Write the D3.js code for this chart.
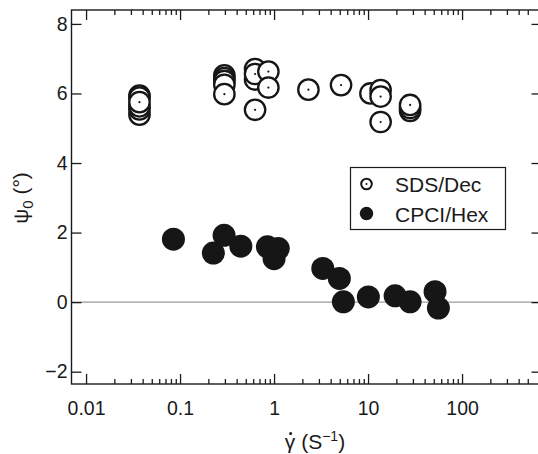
<!DOCTYPE html>
<html>
<head>
<meta charset="utf-8">
<script src="https://cdn.jsdelivr.net/npm/d3@7"></script>
<style>
  html, body { margin: 0; padding: 0; background: #fff; }
  svg { display: block; }
  text { font-family: "Liberation Sans", Arial, Helvetica, sans-serif; fill: #1a1a1a; }
</style>
</head>
<body>
<svg id="chart" width="538" height="454"></svg>
<script>
// ---- data ----
// SDS/Dec : open circles (drawing order: dotted/top-most last in each cluster)
const sdsX = [0.037, 0.037, 0.037, 0.037, 0.037, 0.037,
              0.296, 0.296, 0.296, 0.296, 0.296,
              0.628, 0.628, 0.628, 0.628, 0.87, 0.87,
              2.32, 5.16,
              10.6, 13.6, 13.6, 13.6,
              28, 28, 28];
const sdsY = [5.94, 5.88, 5.39, 5.54, 5.63, 5.75,
              6.52, 6.44, 6.36, 6.25, 5.98,
              6.70, 6.40, 6.56, 5.53, 6.63, 6.17,
              6.11, 6.24,
              6.0, 6.1, 5.91, 5.18,
              5.5, 5.58, 5.67];
// CPCI/Hex : filled circles
const cpciX = [0.085, 0.226, 0.294, 0.443, 0.85, 1.11, 1.0,
               3.3, 4.95, 5.46, 10.07, 19.4, 28, 51.6, 56];
const cpciY = [1.81, 1.41, 1.92, 1.61, 1.59, 1.54, 1.25,
               0.97, 0.68, 0.01, 0.15, 0.18, 0.01, 0.30, -0.17];
const seriesNames = ["SDS/Dec", "CPCI/Hex"];
const yTickValues = [-2, 0, 2, 4, 6, 8];
const xMajorTicks = [0.01, 0.1, 1, 10, 100];
const xTickLabels = ["0.01", "0.1", "1", "10", "100"];
const xDomain = [0.007, 700];
const yDomain = [-2.354, 8.4];

// ---- layout ----
const L = 71.5, R = 541.5, T = 10, B = 384;
const ink = "#1a1a1a";

const svg = d3.select("#chart");
const x = d3.scaleLog().domain(xDomain).range([L, R]);
const y = d3.scaleLinear().domain(yDomain).range([B, T]);

// minor ticks 2..9 per decade from 0.01 to 500
const xMinorTicks = [];
for (let e = -2; e <= 2; e++) {
  for (let m = 2; m <= 9; m++) {
    const v = m * Math.pow(10, e);
    if (v <= 500) xMinorTicks.push(+v.toPrecision(3));
  }
}

// zero line
svg.append("line")
  .attr("x1", L).attr("x2", R)
  .attr("y1", y(0)).attr("y2", y(0))
  .attr("stroke", "#9a9a9a").attr("stroke-width", 1.2);

function styleAxis(g) {
  g.select(".domain").remove();
  g.selectAll(".tick line").attr("stroke", ink).attr("stroke-width", 1.3);
  g.selectAll(".tick text").style("font-size", "19.5px").attr("fill", ink);
}

// bottom axis
svg.append("g").attr("transform", `translate(0,${B})`)
  .call(d3.axisBottom(x).tickValues(xMinorTicks).tickSizeInner(-5).tickSizeOuter(0).tickFormat(""))
  .call(styleAxis);
svg.append("g").attr("transform", `translate(0,${B})`)
  .call(d3.axisBottom(x).tickValues(xMajorTicks).tickSizeInner(-10).tickSizeOuter(0)
        .tickPadding(17).tickFormat((d, i) => xTickLabels[i]))
  .call(styleAxis);
// top axis
svg.append("g").attr("transform", `translate(0,${T})`)
  .call(d3.axisTop(x).tickValues(xMinorTicks).tickSizeInner(-5).tickSizeOuter(0).tickFormat(""))
  .call(styleAxis);
svg.append("g").attr("transform", `translate(0,${T})`)
  .call(d3.axisTop(x).tickValues(xMajorTicks).tickSizeInner(-10).tickSizeOuter(0).tickFormat(""))
  .call(styleAxis);
// left axis
svg.append("g").attr("transform", `translate(${L},0)`)
  .call(d3.axisLeft(y).tickValues(yTickValues).tickSizeInner(-10).tickSizeOuter(0)
        .tickPadding(4).tickFormat(d => d < 0 ? "\u2212" + Math.abs(d) : String(d)))
  .call(styleAxis);
// right axis
svg.append("g").attr("transform", `translate(${R},0)`)
  .call(d3.axisRight(y).tickValues(yTickValues).tickSizeInner(-10).tickSizeOuter(0).tickFormat(""))
  .call(styleAxis);

// frame
svg.append("rect")
  .attr("x", L).attr("y", T).attr("width", R - L).attr("height", B - T)
  .attr("fill", "none").attr("stroke", ink).attr("stroke-width", 1.4);

// filled circles
svg.append("g").selectAll("circle").data(cpciX.map((v, i) => [v, cpciY[i]]))
  .join("circle")
  .attr("cx", d => x(d[0])).attr("cy", d => y(d[1]))
  .attr("r", 11.5).attr("fill", "#161616");

// open circles with centre dot
const og = svg.append("g");
sdsX.forEach((v, i) => {
  og.append("circle")
    .attr("cx", x(v)).attr("cy", y(sdsY[i]))
    .attr("r", 10.2).attr("fill", "#fff").attr("stroke", "#161616").attr("stroke-width", 2.3);
  og.append("circle")
    .attr("cx", x(v)).attr("cy", y(sdsY[i]))
    .attr("r", 1.1).attr("fill", "#161616");
});

// legend
const lg = svg.append("g");
lg.append("rect").attr("x", 350.5).attr("y", 167.5).attr("width", 155).attr("height", 62)
  .attr("fill", "#fff").attr("stroke", ink).attr("stroke-width", 1.2);
lg.append("circle").attr("cx", 366.5).attr("cy", 184).attr("r", 5.3)
  .attr("fill", "#fff").attr("stroke", "#161616").attr("stroke-width", 2);
lg.append("circle").attr("cx", 366.5).attr("cy", 184).attr("r", 1).attr("fill", "#161616");
lg.append("circle").attr("cx", 366.5).attr("cy", 213.5).attr("r", 6.7).attr("fill", "#161616");
lg.append("text").attr("x", 395).attr("y", 192).style("font-size", "21px").text(seriesNames[0]);
lg.append("text").attr("x", 395).attr("y", 222).style("font-size", "21px").text(seriesNames[1]);

// x label
const xl = svg.append("text").attr("x", 315).attr("y", 449)
  .attr("text-anchor", "middle").style("font-size", "21px");
xl.append("tspan").text("\u03B3 (S");
xl.append("tspan").attr("dy", -8).style("font-size", "14px").text("\u22121");
xl.append("tspan").attr("dy", 8).text(")");
// dot over gamma (overdot of the rate symbol)
const ext = xl.node().getExtentOfChar(0);
svg.append("circle")
  .attr("cx", ext.x + ext.width / 2 + 0.5).attr("cy", 449 - 0.52 * 21 - 4.5)
  .attr("r", 1.5).attr("fill", ink);

// y label
const yl = svg.append("text")
  .attr("transform", "translate(28,198) rotate(-90)")
  .attr("text-anchor", "middle").style("font-size", "21px");
yl.append("tspan").text("\u03C8");
yl.append("tspan").attr("dy", 5).style("font-size", "15px").text("0");
yl.append("tspan").attr("dy", -5).text(" (\u00B0)");
</script>
</body>
</html>
